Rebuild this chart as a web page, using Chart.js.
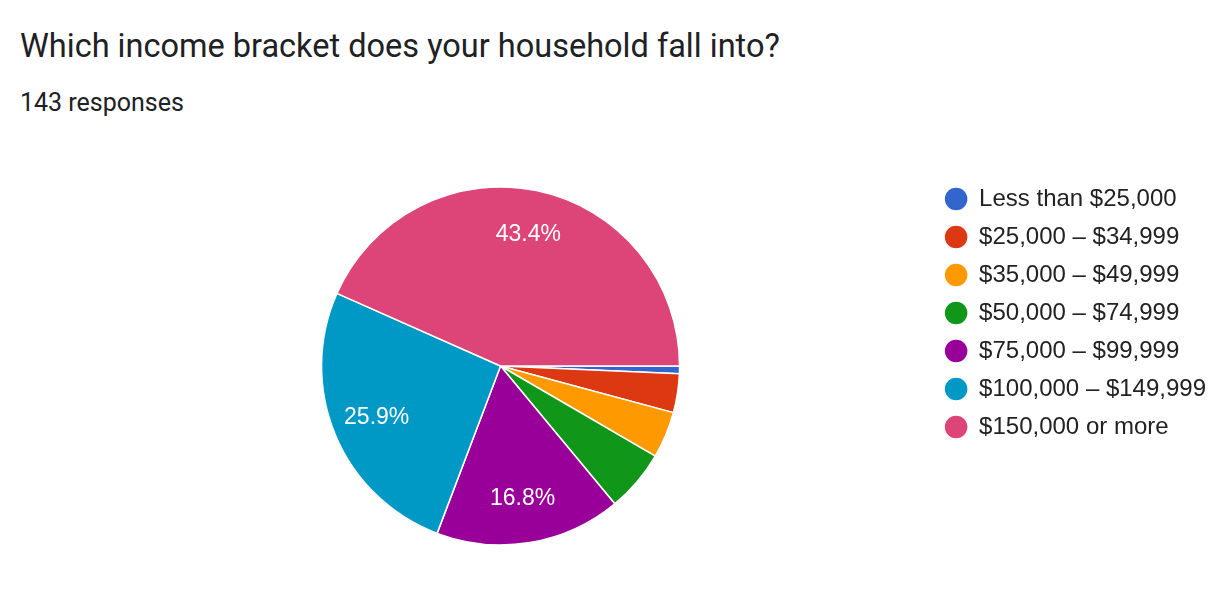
<!DOCTYPE html>
<html>
<head>
<meta charset="utf-8">
<script src="https://cdn.jsdelivr.net/npm/chart.js@4"></script>
<style>
  html, body { margin: 0; padding: 0; background: #ffffff; }
  #wrap { position: relative; width: 1225px; height: 597px; overflow: hidden; }
  #title { position: absolute; left: 20px; top: 30px; font-family: Roboto, sans-serif; font-size: 32.5px; line-height: 32.5px; color: #202124; white-space: nowrap; }
  #sub { position: absolute; left: 20px; top: 90px; font-family: Roboto, sans-serif; font-size: 25px; line-height: 25px; color: #202124; white-space: nowrap; }
  #c { position: absolute; left: 0; top: 0; }
</style>
</head>
<body>
<div id="wrap">
  <div id="title">Which income bracket does your household fall into?</div>
  <div id="sub">143 responses</div>
  <canvas id="c" width="1225" height="597"></canvas>
</div>
<script>
const categories = [
  'Less than $25,000',
  '$25,000 – $34,999',
  '$35,000 – $49,999',
  '$50,000 – $74,999',
  '$75,000 – $99,999',
  '$100,000 – $149,999',
  '$150,000 or more'
];
const responses = [1, 5, 6, 8, 24, 37, 62];
const sliceColors = ['#3366cc', '#dc3912', '#ff9900', '#109618', '#990099', '#0099c6', '#dd4477'];

const pieLabels = {
  id: 'pieLabels',
  afterDatasetsDraw(chart) {
    const ctx = chart.ctx;
    const meta = chart.getDatasetMeta(0);
    const data = chart.data.datasets[0].data;
    const total = data.reduce((a, b) => a + b, 0);
    ctx.save();
    ctx.fillStyle = '#ffffff';
    ctx.font = '23px "Liberation Sans", Arial, sans-serif';
    ctx.textAlign = 'center';
    ctx.textBaseline = 'middle';
    meta.data.forEach((arc, i) => {
      const pct = data[i] / total * 100;
      if (pct < 10) return;
      const p = arc.getProps(['x', 'y', 'startAngle', 'endAngle', 'outerRadius'], true);
      const mid = (p.startAngle + p.endAngle) / 2;
      const r = p.outerRadius * 0.75;
      ctx.fillText(pct.toFixed(1) + '%', p.x + Math.cos(mid) * r, p.y + Math.sin(mid) * r);
    });
    ctx.restore();
  }
};

new Chart(document.getElementById('c'), {
  type: 'pie',
  data: {
    labels: categories,
    datasets: [{
      data: responses,
      backgroundColor: sliceColors,
      borderColor: '#ffffff',
      borderWidth: 1.5,
      hoverOffset: 0,
      radius: 179
    }]
  },
  options: {
    responsive: false,
    animation: false,
    rotation: 90,
    layout: { padding: { left: 70, right: 9, top: 173, bottom: 38 } },
    plugins: {
      tooltip: { enabled: false },
      legend: {
        position: 'right',
        align: 'start',
        labels: {
          usePointStyle: true,
          pointStyle: 'circle',
          boxWidth: 22,
          boxHeight: 17,
          padding: 14,
          color: '#222222',
          font: { family: '"Liberation Sans", Arial, sans-serif', size: 24 }
        }
      }
    }
  },
  plugins: [pieLabels]
});
</script>
</body>
</html>
